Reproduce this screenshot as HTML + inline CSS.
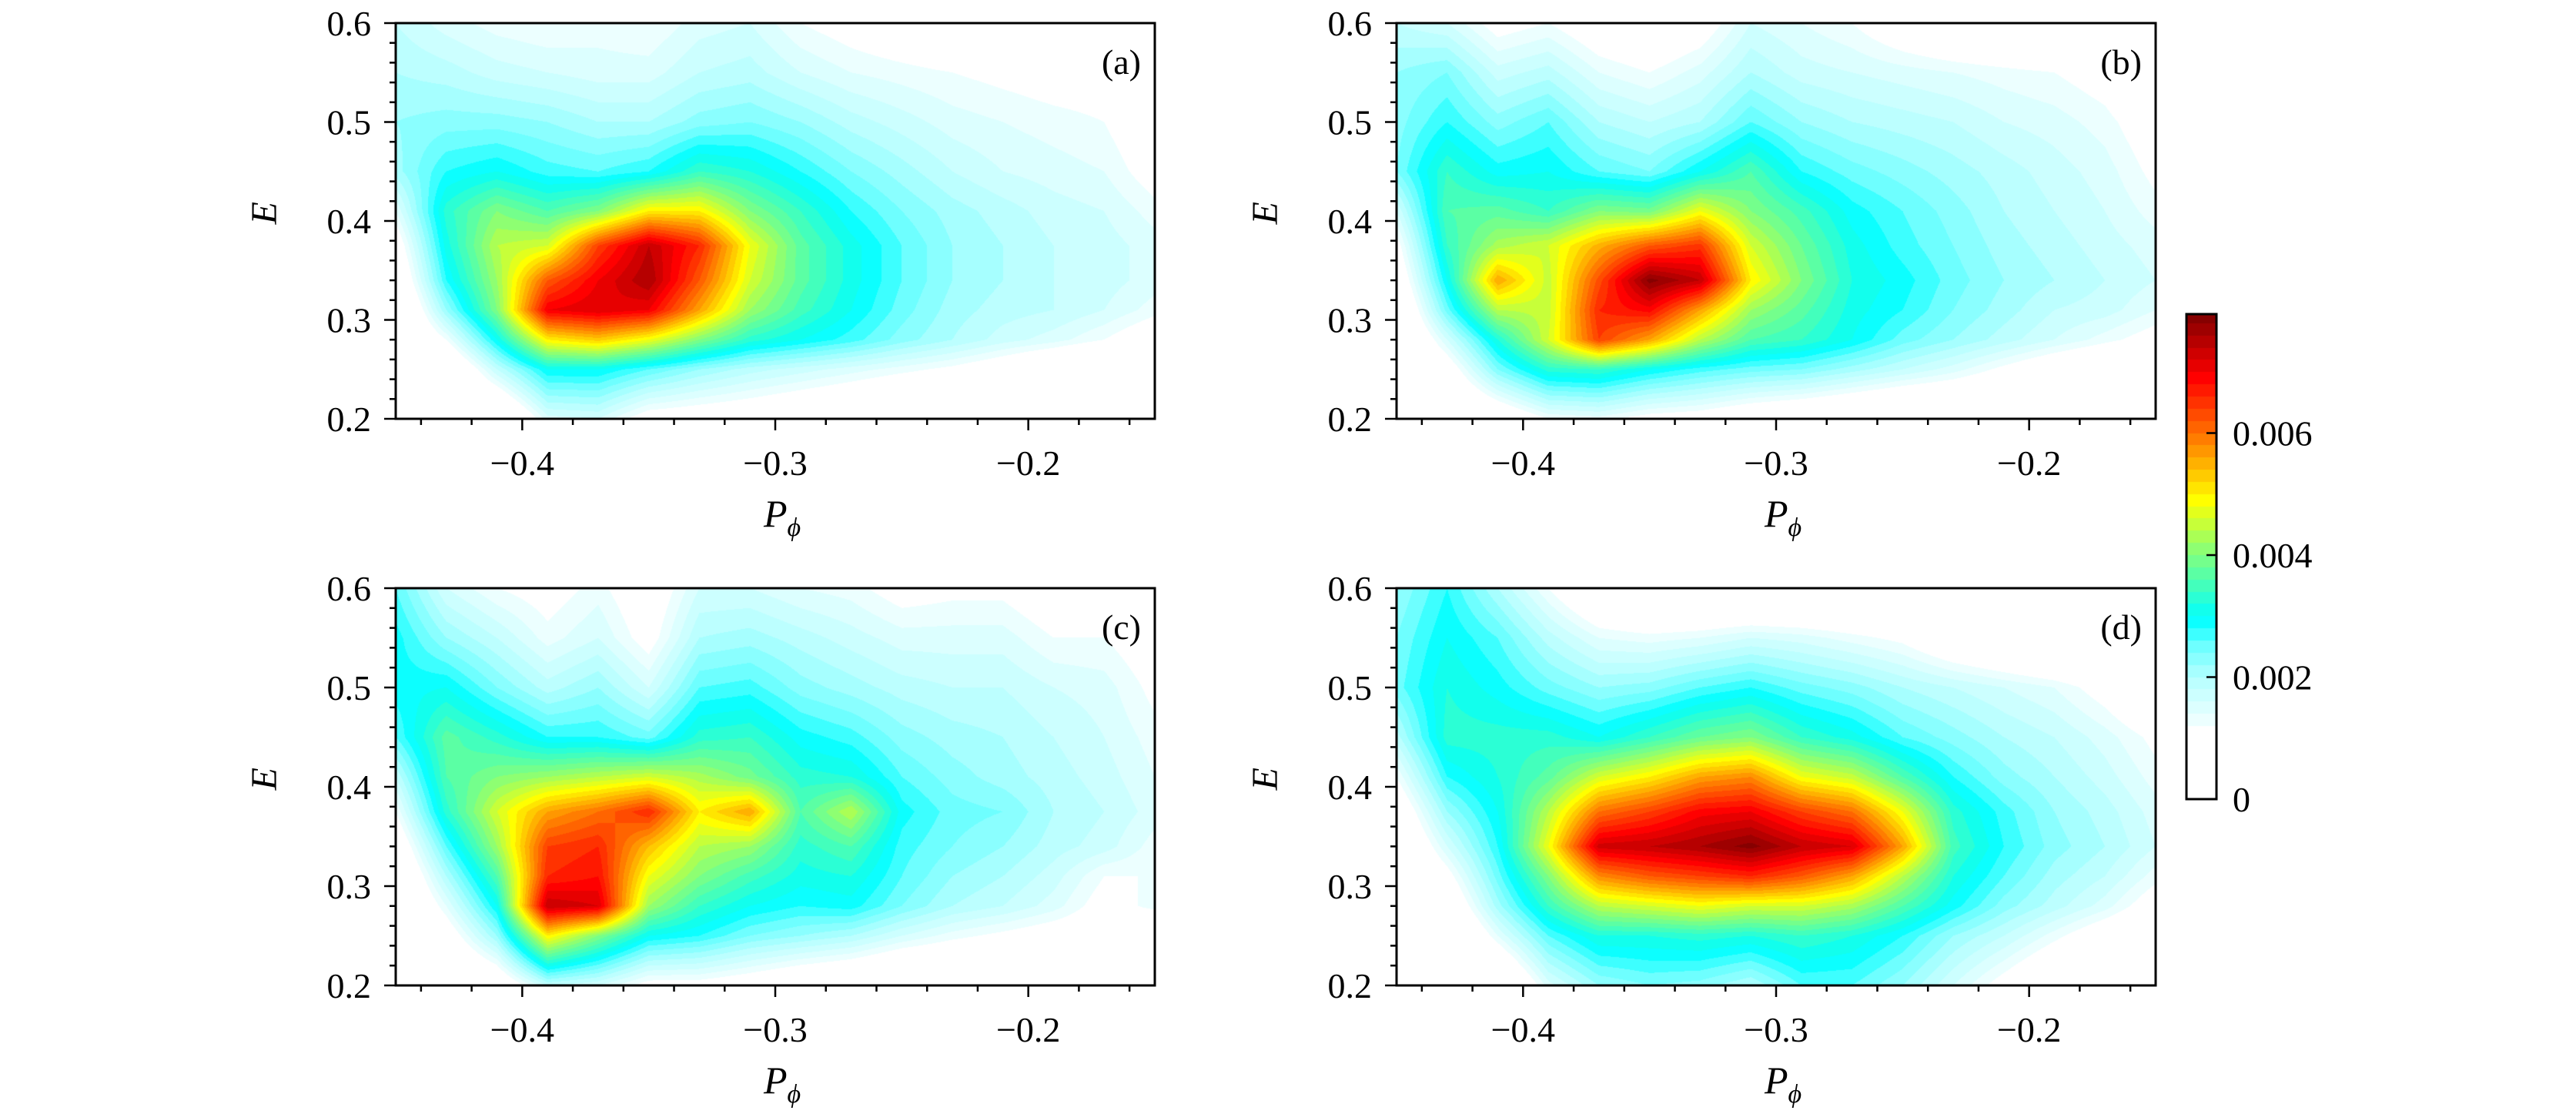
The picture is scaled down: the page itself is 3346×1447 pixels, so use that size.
<!DOCTYPE html>
<html><head><meta charset="utf-8">
<style>
html,body{margin:0;padding:0;background:#fff;}
#wrap{position:relative;width:3346px;height:1447px;overflow:hidden;background:#fff;}
canvas{position:absolute;}
svg{position:absolute;left:0;top:0;}
text{font-family:"Liberation Serif",serif;fill:#000;}
</style></head>
<body>
<div id="wrap">
<canvas id="cva" width="986" height="514" style="left:514px;top:30px"></canvas>
<canvas id="cvb" width="986" height="514" style="left:1814px;top:30px"></canvas>
<canvas id="cvc" width="986" height="516" style="left:514px;top:764px"></canvas>
<canvas id="cvd" width="986" height="516" style="left:1814px;top:764px"></canvas>
<canvas id="cbar" width="39" height="630" style="left:2840px;top:408px"></canvas>
<svg id="ov" width="3346" height="1447"></svg>
</div>
<script>
// grid coordinates
const pCols = [-0.45,-0.43,-0.41,-0.39,-0.37,-0.35,-0.33,-0.31,-0.29,-0.27,-0.25,-0.23,-0.21,-0.19,-0.17,-0.15];
const eRows = [0.6,0.55,0.5,0.45,0.41,0.375,0.34,0.31,0.28,0.25,0.2];
// values in units of 1e-3
const densA = [
[1.8,1.5,1.3,1.2,1.3,1.2,1.5,1.6,1.2,1.0,0.8,0.6,0.4,0.2,0,0],
[2.0,1.9,1.7,1.6,1.5,1.5,1.8,1.9,1.6,1.4,1.3,1.2,1.1,1.0,1.0,0.6],
[2.2,2.3,2.3,2.2,2.0,2.0,2.3,2.4,2.2,1.9,1.7,1.5,1.4,1.3,1.2,0.8],
[2.1,2.8,3.0,2.7,2.6,2.8,3.4,3.2,2.8,2.4,2.1,1.8,1.6,1.5,1.4,1.0],
[1.4,3.3,4.0,3.6,4.0,5.0,5.0,4.0,3.4,2.8,2.4,2.1,1.9,1.7,1.6,1.3],
[0.8,3.1,4.4,4.6,6.4,7.4,6.6,4.8,3.7,3.1,2.6,2.2,2.0,1.8,1.7,1.5],
[0.4,2.8,4.2,6.2,7.0,7.6,6.2,4.6,3.7,3.1,2.6,2.2,2.0,1.8,1.7,1.5],
[0,2.2,4.0,7.0,7.2,7.0,5.6,4.2,3.5,3.0,2.5,2.1,1.9,1.8,1.6,1.3],
[0,1.2,3.0,5.0,5.3,4.8,4.0,3.3,3.0,2.7,2.3,2.0,1.7,1.5,1.2,0.8],
[0,0.2,1.8,3.0,3.0,2.6,2.2,1.9,1.7,1.5,1.3,1.1,0.8,0.4,0,0],
[0,0,0,1.5,1.6,0.9,0.8,0.7,0.5,0.3,0,0,0,0,0,0]];
const densB = [
[1.8,1.6,1.0,1.2,0.8,0.6,0.9,1.6,1.4,1.2,0.8,0.5,0.3,0.2,0,0],
[2.2,2.4,1.7,1.9,1.4,1.2,1.5,2.0,1.7,1.6,1.5,1.4,1.3,1.2,1.0,0.5],
[2.3,2.8,2.3,2.6,2.0,1.8,2.0,2.6,2.2,2.0,1.9,1.8,1.6,1.5,1.3,0.9],
[2.4,3.4,2.9,3.0,2.6,2.4,3.0,3.6,2.8,2.5,2.3,2.1,1.9,1.7,1.5,1.1],
[1.6,3.6,3.7,3.4,4.0,3.9,4.8,4.0,3.5,2.9,2.6,2.3,2.0,1.8,1.6,1.3],
[1.0,3.4,4.3,4.6,5.5,6.2,6.5,4.6,3.8,3.1,2.7,2.4,2.1,1.9,1.7,1.5],
[0.6,3.0,5.6,4.5,6.3,7.9,7.4,5.0,4.0,3.2,2.9,2.5,2.2,2.0,1.8,1.6],
[0.2,2.5,4.4,4.5,6.6,6.9,5.6,4.2,3.7,3.1,2.8,2.4,2.1,1.8,1.7,1.4],
[0,1.6,3.2,4.6,6.4,5.6,4.4,3.6,3.4,3.0,2.5,2.2,1.9,1.6,1.3,1.0],
[0,0.8,2.4,3.3,3.4,3.0,2.7,2.5,2.4,2.1,1.8,1.5,1.1,0.7,0.4,0],
[0,0,0.5,1.2,1.3,1.0,0.9,0.6,0.4,0.2,0,0,0,0,0,0]];
const densC = [
[2.6,1.6,1.2,1.0,1.3,0.8,1.6,1.6,1.4,1.3,1.0,1.1,1.1,0.8,0.7,0.4],
[2.9,2.2,1.8,1.3,1.6,1.0,2.0,2.1,1.9,1.7,1.5,1.5,1.5,1.2,1.2,0.9],
[2.9,3.0,2.4,1.9,2.2,1.6,2.6,2.7,2.3,2.1,1.9,1.8,1.8,1.6,1.5,1.1],
[2.6,3.7,3.3,2.8,2.8,2.5,3.3,3.4,2.9,2.7,2.3,2.1,2.0,1.8,1.6,1.3],
[1.8,3.6,4.0,4.2,4.4,4.6,4.3,3.9,3.3,3.2,2.6,2.3,2.1,1.9,1.7,1.4],
[1.2,3.3,4.6,5.6,6.0,6.6,5.0,5.6,3.6,4.4,2.9,2.5,2.4,2.0,1.8,1.5],
[0.6,2.6,4.2,6.4,6.6,5.4,4.4,4.2,3.3,3.6,2.7,2.4,2.2,1.9,1.7,1.3],
[0.2,2.0,3.6,6.6,6.8,4.8,4.0,3.5,3.1,3.2,2.6,2.2,2.0,1.7,1.2,1.2],
[0,1.4,3.0,7.4,7.2,4.2,3.4,3.0,2.8,2.9,2.4,2.0,1.8,1.5,1.0,1.3],
[0,0.8,2.2,5.0,4.0,3.0,2.8,2.4,2.2,2.0,1.6,1.3,1.1,0.9,0.8,0.5],
[0,0,0.5,1.8,1.6,1.0,1.0,0.8,0.5,0.3,0,0,0,0,0,0]];
const densD = [
[2.2,2.8,2.0,1.2,0.4,0,0,0,0,0,0,0,0,0,0,0],
[2.4,3.0,2.6,1.9,1.4,1.3,1.4,1.6,1.5,1.3,1.1,0.6,0.3,0,0,0],
[2.5,3.2,2.9,2.5,2.2,2.3,2.6,2.8,2.5,2.3,2.0,1.8,1.6,1.4,1.0,0.4],
[1.9,3.3,3.3,3.3,3.0,3.4,3.8,4.0,3.4,3.1,2.6,2.3,2.0,1.8,1.5,1.1],
[1.2,2.8,3.2,3.7,4.6,5.0,5.6,5.8,4.8,4.5,3.6,2.8,2.3,2.0,1.7,1.3],
[0.6,2.2,3.0,4.4,6.0,6.4,6.9,7.0,6.4,6.0,4.8,3.3,2.7,2.2,1.9,1.5],
[0.2,1.6,2.8,4.8,7.3,7.4,7.6,7.9,7.4,7.2,5.6,3.5,2.8,2.3,2.0,1.6],
[0,1.0,2.5,4.0,5.8,6.2,6.4,6.6,6.2,5.6,4.4,3.2,2.6,2.1,1.8,1.3],
[0,0.5,2.1,3.4,4.4,4.6,4.8,4.6,4.6,4.3,3.6,2.9,2.3,1.9,1.5,0.9],
[0,0,1.4,2.6,3.2,3.2,3.3,3.2,3.4,3.2,2.8,2.2,1.8,1.3,0.8,0.4],
[0,0,0,1.5,2.2,2.4,2.3,2.0,2.6,2.6,2.2,1.6,1.0,0.4,0,0]];
const xTicks = [-0.4,-0.3,-0.2];
const xTickLabels = ["−0.4","−0.3","−0.2"];
const yTicks = [0.2,0.3,0.4,0.5,0.6];
const yTickLabels = ["0.2","0.3","0.4","0.5","0.6"];
const cbTicks = [0,0.002,0.004,0.006];
const cbTickLabels = ["0","0.002","0.004","0.006"];
const panelLabels = ["(a)","(b)","(c)","(d)"];

const VMAX = 7.95;
const stops = [[0,[255,255,255]],[1.2,[255,255,255]],[1.25,[240,255,255]],[2.0,[180,255,255]],[2.5,[110,255,255]],[2.95,[0,255,255]],[4.0,[128,255,128]],[4.9,[255,255,0]],[6.0,[255,112,0]],[6.9,[255,0,0]],[7.95,[128,0,0]]];
function cmap(v){
  v = Math.floor(v/0.2)*0.2+0.1;
  if(v<=stops[0][0]) return stops[0][1];
  for(let i=1;i<stops.length;i++){
    if(v<=stops[i][0]){const a=stops[i-1],b=stops[i];const t=(v-a[0])/(b[0]-a[0]);
      return [0,1,2].map(k=>Math.round(a[1][k]+(b[1][k]-a[1][k])*t));}
  }
  return stops[stops.length-1][1];
}
function sample(grid,p,e){
  let i=0; while(i<pCols.length-2 && p>pCols[i+1]) i++;
  let j=0; while(j<eRows.length-2 && e<eRows[j+1]) j++;
  const tx=Math.max(0,Math.min(1,(p-pCols[i])/(pCols[i+1]-pCols[i])));
  const ty=Math.max(0,Math.min(1,(e-eRows[j])/(eRows[j+1]-eRows[j])));
  const a=grid[j][i],b=grid[j][i+1],c=grid[j+1][i],d=grid[j+1][i+1];
  return (a*(1-tx)+b*tx)*(1-ty)+(c*(1-tx)+d*tx)*ty;
}
function drawHeat(id,grid){
  const cv=document.getElementById(id),ctx=cv.getContext('2d');
  const W=cv.width,H=cv.height,img=ctx.createImageData(W,H);
  for(let y=0;y<H;y++){const e=0.6-(y+0.5)/H*0.4;
    for(let x=0;x<W;x++){const p=-0.45+(x+0.5)/W*0.3;
      const c=cmap(sample(grid,p,e));const o=(y*W+x)*4;
      img.data[o]=c[0];img.data[o+1]=c[1];img.data[o+2]=c[2];img.data[o+3]=255;}}
  ctx.putImageData(img,0,0);
}
drawHeat('cva',densA);drawHeat('cvb',densB);drawHeat('cvc',densC);drawHeat('cvd',densD);
(function(){const cv=document.getElementById('cbar'),ctx=cv.getContext('2d');
  for(let y=0;y<cv.height;y++){const v=(cv.height-y-0.5)/cv.height*VMAX;const c=cmap(v);
    ctx.fillStyle='rgb('+c.join(',')+')';ctx.fillRect(0,y,cv.width,1);}})();

const NS='http://www.w3.org/2000/svg';
const svg=document.getElementById('ov');
function mk(tag,attrs,parent){const el=document.createElementNS(NS,tag);for(const k in attrs)el.setAttribute(k,attrs[k]);(parent||svg).appendChild(el);return el;}
const panels=[{x:514,y:30,h:514},{x:1814,y:30,h:514},{x:514,y:764,h:516},{x:1814,y:764,h:516}];
panels.forEach((pn,idx)=>{
  const W=986,H=pn.h;
  const sx=p=>pn.x+(p+0.45)/0.3*W, sy=e=>pn.y+(0.6-e)/0.4*H;
  const g=mk('g',{});
  
  
  for(let k=-44;k<=-16;k+=2){const p=k/100;const major=xTicks.some(t=>Math.abs(t-p)<1e-6);
    const l=mk('line',{x1:sx(p),x2:sx(p),y1:pn.y+H,y2:pn.y+H+(major?15:8),stroke:'#000','stroke-width':2.5},g);
    
    }
  for(let k=20;k<=60;k+=2){const e=k/100;const major=yTicks.some(t=>Math.abs(t-e)<1e-6);
    const l=mk('line',{x1:pn.x,x2:pn.x-(major?15:8),y1:sy(e),y2:sy(e),stroke:'#000','stroke-width':2.5},g);
    
    }
  xTicks.forEach((t,i)=>{const tx=mk('text',{x:sx(t),y:pn.y+H+73,'font-size':46,'text-anchor':'middle'},g);tx.textContent=xTickLabels[i];
    
    });
  yTicks.forEach((t,i)=>{const tx=mk('text',{x:pn.x-32,y:sy(t)+16,'font-size':46,'text-anchor':'end'},g);tx.textContent=yTickLabels[i];
    
    });
  const fr=mk('rect',{x:pn.x,y:pn.y,width:W,height:H,fill:'none',stroke:'#000','stroke-width':3},g);
  
  
  const xl=mk('text',{x:pn.x+478,y:pn.y+H+140,'font-size':50,'font-style':'italic'},g);
  xl.innerHTML='P<tspan font-size="34" dy="12">ϕ</tspan>';
  
  
  const yl=mk('text',{x:0,y:0,'font-size':48,'font-style':'italic','text-anchor':'middle',transform:'translate('+(pn.x-155)+','+(pn.y+H*0.48)+') rotate(-90)'},g);
  yl.textContent='E';
  
  
  const pl=mk('text',{x:pn.x+W-18,y:pn.y+66,'font-size':46,'text-anchor':'end'},g);
  pl.textContent=panelLabels[idx];
  
  
});
const cbg=mk('g',{});


const cby=v=>408+630-(v*1000)/VMAX*630;
cbTicks.forEach((t,i)=>{
  const l=mk('line',{x1:2879,x2:2866,y1:cby(t),y2:cby(t),stroke:'#000','stroke-width':2.5},cbg);
  
  
  const tx=mk('text',{x:2900,y:cby(t)+16,'font-size':46},cbg);tx.textContent=cbTickLabels[i];
  
  
});
const cbf=mk('rect',{x:2840,y:408,width:39,height:630,fill:'none',stroke:'#000','stroke-width':3},cbg);


</script>
</body></html>
